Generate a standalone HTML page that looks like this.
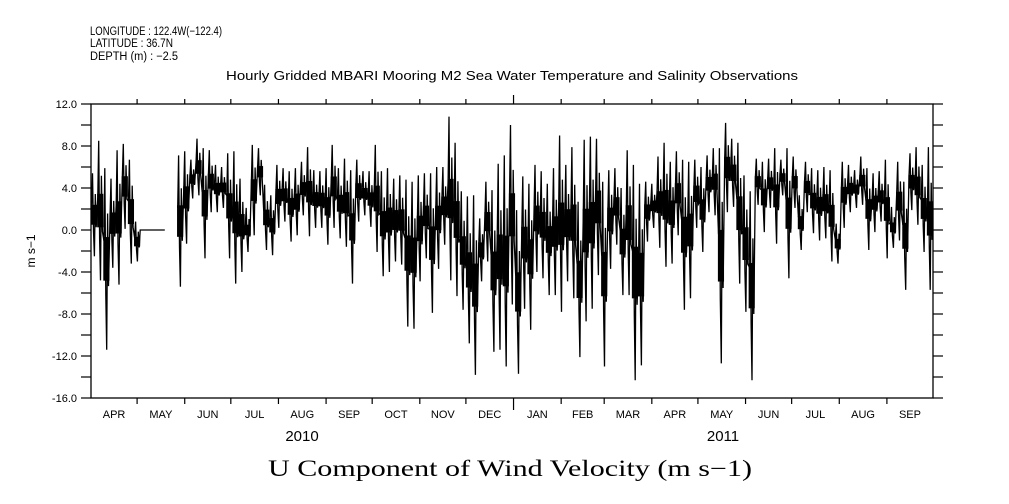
<!DOCTYPE html>
<html><head><meta charset="utf-8"><style>
html,body{margin:0;padding:0;background:#fff;}
svg{display:block;}
text{font-family:"Liberation Sans",sans-serif;fill:#000;}
</style></head><body>
<svg id="chart" width="1009" height="504" viewBox="0 0 1009 504" xmlns="http://www.w3.org/2000/svg">
<text x="90" y="35" font-size="11.5" textLength="132" lengthAdjust="spacingAndGlyphs">LONGITUDE : 122.4W(−122.4)</text>
<text x="90" y="47" font-size="11.5" textLength="83" lengthAdjust="spacingAndGlyphs">LATITUDE : 36.7N</text>
<text x="90" y="60" font-size="11.5" textLength="88" lengthAdjust="spacingAndGlyphs">DEPTH (m) : −2.5</text>
<text x="226" y="80" font-size="12.5" textLength="572" lengthAdjust="spacingAndGlyphs">Hourly Gridded MBARI Mooring M2 Sea Water Temperature and Salinity Observations</text>
<text x="0" y="0" font-size="12" text-anchor="middle" transform="translate(35,251) rotate(-90)">m s−1</text>
<text x="268" y="476" font-size="23" textLength="484" lengthAdjust="spacingAndGlyphs" style="font-family:'Liberation Serif',serif">U Component of Wind Velocity (m s−1)</text>
<g id="axes"></g>
<g id="series"></g>
</svg>
<script>
const months = ["APR","MAY","JUN","JUL","AUG","SEP","OCT","NOV","DEC","JAN","FEB","MAR","APR","MAY","JUN","JUL","AUG","SEP"];
const monthDays = [30,31,30,31,31,30,31,30,31,31,28,31,30,31,30,31,31,30];
const years = ["2010","2011"];
const yTicks = [12,8,4,0,-4,-8,-12,-16];
const yTickLabels = ["12.0","8.0","4.0","0.0","-4.0","-8.0","-12.0","-16.0"];
const binDays = 4;
// 4-day bin maxima / minima (m/s); null = no data
const hiVals = [5.4,8.5,5.9,4.9,7.6,8.2,6.7,0.8,0,0,0,0,null,null,7.1,7.5,6.7,8.7,7.8,7.6,6.2,6.0,7.3,7.5,4.9,2.1,8.1,7.8,4.3,3.3,6.2,5.9,5.6,5.9,6.5,7.9,5.7,5.6,5.9,8.1,5.9,6.8,5.7,6.7,5.6,5.6,8.1,5.6,5.9,4.9,5.2,4.8,4.6,5.2,5.4,5.4,6.0,6.0,10.8,8.3,3.7,3.2,3.3,1.1,4.6,3.8,6.3,7.1,10.0,1.9,5.1,4.4,6.2,5.6,4.4,5.9,9.0,6.2,7.9,2.7,8.6,8.9,8.7,4.6,5.7,5.9,4.0,7.6,6.2,4.4,4.6,4.4,7.0,8.3,6.5,7.5,6.7,6.5,6.7,6.0,7.1,7.8,7.8,10.2,8.7,8.3,5.2,3.7,6.8,6.5,6.8,7.8,6.7,7.8,7.0,3.3,6.5,5.9,5.7,6.0,5.7,0.6,6.5,6.2,5.7,7.0,5.9,5.4,5.6,6.7,2.2,6.5,4.6,7.3,7.9,6.2,7.9];
const loVals = [-2.5,-4.8,-11.4,-3.6,-5.2,0.1,-3.2,-3.0,0,0,0,0,null,null,-5.4,-1.3,3.0,3.3,-2.7,1.7,1.7,2.1,-2.7,-5.1,-4.0,-2.1,-0.5,3.3,-1.9,-2.4,0.2,0.8,-1.1,-0.5,1.4,-0.6,0.2,0.2,-1.4,0.2,-0.8,-1.6,-5.1,0.8,1.4,0.3,-2.1,-4.4,-4.0,-3.0,-3.3,-9.2,-9.4,-4.9,-2.7,-7.9,-3.7,-1.4,-4.8,-6.3,-7.6,-10.8,-13.8,-4.9,-3.0,-11.6,-11.4,-13.0,-7.1,-13.7,-7.5,-9.5,-4.0,-4.6,-6.2,-6.2,-7.8,-4.9,-6.5,-12.1,-8.7,-7.5,-4.3,-13.0,-3.7,-1.4,-6.2,-6.2,-14.3,-12.9,-1.1,0.2,-1.7,-3.5,-3.2,-0.5,-7.6,-6.5,0.2,-2.1,1.7,1.4,-12.7,1.7,2.2,-5.1,-7.8,-14.3,2.4,-0.2,2.1,-1.3,3.3,-4.6,2.1,-1.9,1.7,-0.3,-1.0,-0.8,-3.0,-3.2,0.2,1.7,2.1,2.4,-1.9,-0.2,0.8,-2.7,-1.7,-1.0,-5.7,1.9,0.5,-2.1,-5.7];

const NS="http://www.w3.org/2000/svg";
const X0=91, X1=933, Y0=104, Y1=398, totalDays=548;
const xScale=d=>X0+(d/totalDays)*(X1-X0);
const yScale=v=>Y1-(v-(-16))/28*(Y1-Y0);
const axes=document.getElementById('axes'), series=document.getElementById('series');
function mk(tag,attrs,parent){const e=document.createElementNS(NS,tag);for(const k in attrs)e.setAttribute(k,attrs[k]);parent.appendChild(e);return e;}

const frame=mk('rect',{x:X0,y:Y0,width:X1-X0,height:Y1-Y0,fill:'none',stroke:'#000','stroke-width':1.3},axes);



for(let v=-16;v<=12;v+=2){
  const y=yScale(v);
  const t1=mk('line',{x1:X0-10,x2:X0,y1:y,y2:y,stroke:'#000','stroke-width':1.2},axes);
  
  
  const t2=mk('line',{x1:X1,x2:X1+10,y1:y,y2:y,stroke:'#000','stroke-width':1.2},axes);
  
  
}
yTicks.forEach((v,i)=>{
  const t=mk('text',{x:X0-14,y:yScale(v)+4,'font-size':11,'text-anchor':'end'},axes);
  t.textContent=yTickLabels[i];
  
  
});
let d=0;
months.forEach((m,i)=>{
  const xs=xScale(d), xc=xScale(d+monthDays[i]/2);
  if(i>0){
    const len = m==="JAN"?9:5;
    const a=mk('line',{x1:xs,x2:xs,y1:Y0-len,y2:Y0,stroke:'#000','stroke-width':1.2},axes);
    
    
    const b=mk('line',{x1:xs,x2:xs,y1:Y1,y2:Y1+(m==="JAN"?12:6),stroke:'#000','stroke-width':1.2},axes);
    
    
  }
  const t=mk('text',{x:xc,y:418,'font-size':11,'text-anchor':'middle'},axes);
  t.textContent=m;
  
  
  d+=monthDays[i];
});
const yearPos=[302,723];
years.forEach((yv,i)=>{
  const t=mk('text',{x:yearPos[i],y:441,'font-size':15,'text-anchor':'middle'},axes);
  t.textContent=yv;
  
  
});

// series
let pts=[];
const segs=[];
hiVals.forEach((hi,i)=>{
  const lo=loVals[i];
  if(hi===null){ if(pts.length) segs.push(pts); pts=[]; return; }
  const xa=xScale(i*binDays), xb=xScale((i+1)*binDays), w=xb-xa;
  if(hi===lo){ pts.push([xa,yScale(hi)],[xb,yScale(hi)]); return; }
  const r=hi-lo;
  pts.push([xa+w*0.1,yScale(lo+r*0.6)],[xa+w*0.25,yScale(hi)],[xa+w*0.4,yScale(lo+r*0.3)],[xa+w*0.55,yScale(lo)],[xa+w*0.7,yScale(lo+r*0.75)],[xa+w*0.85,yScale(lo+r*0.35)]);
  const core=mk('rect',{x:xa,width:w,y:yScale(lo+r*0.62),height:Math.max(0,yScale(lo+r*0.38)-yScale(lo+r*0.62)),fill:'#000'},series);
  
  
});
if(pts.length) segs.push(pts);
segs.forEach(s=>{
  const pl=mk('polyline',{points:s.map(p=>p[0].toFixed(1)+','+p[1].toFixed(1)).join(' '),fill:'none',stroke:'#000','stroke-width':1.3},series);
  
  
});
</script>
</body></html>
